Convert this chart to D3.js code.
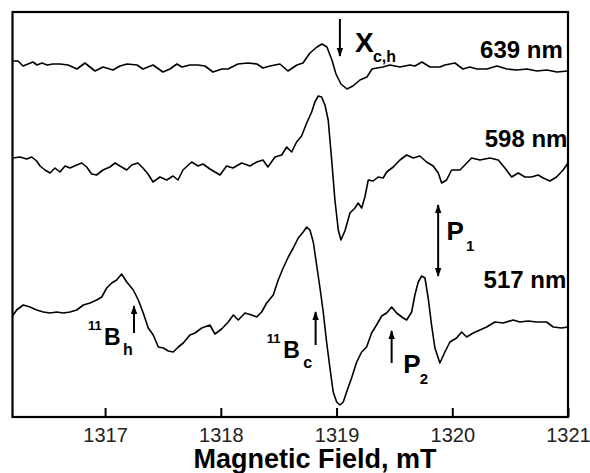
<!DOCTYPE html>
<html>
<head>
<meta charset="utf-8">
<script src="https://cdn.jsdelivr.net/npm/d3@7"></script>
<style>
  body { margin: 0; background: #fff; }
  svg { display: block; font-family: "Liberation Sans", Arial, sans-serif; }
</style>
</head>
<body>
<div id="chart"></div>
<script>
// EPR spectra, magnetic field in mT, intensity in arbitrary units (traces are offset)
var field639 = [1316.200, 1316.248, 1316.291, 1316.334, 1316.377, 1316.412, 1316.455, 1316.498, 1316.550, 1316.610,
  1316.680, 1316.757, 1316.826, 1316.913, 1316.982, 1317.068, 1317.129, 1317.189, 1317.276, 1317.327,
  1317.414, 1317.500, 1317.561, 1317.621, 1317.664, 1317.733, 1317.803, 1317.863, 1317.932, 1318.010,
  1318.062, 1318.148, 1318.235, 1318.312, 1318.364, 1318.425, 1318.511, 1318.580, 1318.658, 1318.710,
  1318.770, 1318.831, 1318.874, 1318.917, 1318.960, 1318.995, 1319.038, 1319.090, 1319.142, 1319.202,
  1319.263, 1319.306, 1319.349, 1319.401, 1319.461, 1319.548, 1319.634, 1319.677, 1319.738, 1319.807,
  1319.893, 1319.936, 1320.023, 1320.092, 1320.152, 1320.213, 1320.299, 1320.386, 1320.472, 1320.558,
  1320.645, 1320.731, 1320.818, 1320.904, 1321.000]
var int639 = [35.6, 35.6, 35.1, 35.3, 35.5, 35.2, 35.4, 35.2, 35.3, 35.3,
  35.2, 34.8, 35.4, 34.6, 35.0, 34.7, 35.1, 35.3, 35.2, 34.8,
  35.2, 34.5, 34.8, 35.3, 35.0, 35.2, 35.2, 35.1, 34.5, 34.8,
  34.8, 35.3, 35.4, 35.3, 34.9, 35.1, 35.3, 34.6, 35.2, 35.4,
  36.4, 37.0, 37.3, 37.0, 35.7, 34.3, 33.3, 32.8, 33.1, 33.7,
  34.0, 34.8, 34.9, 35.0, 35.2, 35.0, 35.2, 35.1, 35.5, 35.0,
  35.0, 35.2, 35.4, 34.8, 35.0, 34.8, 34.8, 35.1, 34.8, 34.7,
  34.8, 34.6, 34.7, 34.5, 34.6]

var field598 = [1316.200, 1316.265, 1316.323, 1316.366, 1316.409, 1316.438, 1316.481, 1316.524, 1316.567, 1316.610,
  1316.654, 1316.697, 1316.755, 1316.798, 1316.841, 1316.884, 1316.927, 1316.982, 1317.042, 1317.086,
  1317.143, 1317.187, 1317.230, 1317.284, 1317.327, 1317.371, 1317.414, 1317.474, 1317.532, 1317.587,
  1317.630, 1317.673, 1317.748, 1317.803, 1317.846, 1317.906, 1317.993, 1318.050, 1318.105, 1318.180,
  1318.252, 1318.310, 1318.364, 1318.407, 1318.468, 1318.526, 1318.569, 1318.612, 1318.655, 1318.698,
  1318.742, 1318.785, 1318.813, 1318.842, 1318.871, 1318.900, 1318.928, 1318.958, 1318.986, 1319.015,
  1319.038, 1319.072, 1319.116, 1319.159, 1319.187, 1319.217, 1319.245, 1319.274, 1319.317, 1319.360,
  1319.403, 1319.433, 1319.490, 1319.548, 1319.606, 1319.663, 1319.720, 1319.778, 1319.835, 1319.879,
  1319.908, 1319.951, 1319.994, 1320.066, 1320.109, 1320.167, 1320.239, 1320.325, 1320.397, 1320.455,
  1320.513, 1320.570, 1320.628, 1320.685, 1320.742, 1320.786, 1320.844, 1320.901, 1320.958, 1321.000]
var int598 = [25.9, 26.0, 25.8, 26.0, 25.6, 25.1, 24.7, 24.4, 24.9, 24.5,
  25.1, 24.9, 25.2, 25.4, 25.0, 24.3, 24.2, 24.7, 25.0, 25.4,
  25.0, 24.7, 25.2, 25.4, 24.9, 24.3, 23.5, 24.0, 23.7, 24.1,
  23.7, 24.7, 25.5, 25.1, 25.3, 24.8, 24.2, 25.1, 24.9, 25.4,
  25.1, 25.5, 25.7, 25.0, 26.0, 26.2, 27.0, 26.5, 27.5, 28.1,
  29.4, 30.5, 31.5, 32.1, 32.0, 31.2, 29.7, 25.7, 21.7, 18.7,
  17.7, 18.6, 20.4, 20.9, 21.4, 20.9, 22.0, 23.7, 23.6, 24.0,
  23.9, 24.5, 25.0, 25.7, 26.2, 25.9, 26.1, 25.5, 25.1, 24.4,
  23.4, 23.7, 24.7, 24.7, 25.2, 25.9, 25.7, 25.9, 25.7, 24.9,
  24.0, 24.4, 24.0, 24.0, 24.2, 23.9, 23.6, 24.0, 24.7, 25.4]

var field517 = [1316.200, 1316.236, 1316.293, 1316.351, 1316.409, 1316.466, 1316.524, 1316.582, 1316.639, 1316.697,
  1316.755, 1316.812, 1316.870, 1316.927, 1316.971, 1317.014, 1317.057, 1317.100, 1317.143, 1317.187,
  1317.244, 1317.287, 1317.330, 1317.373, 1317.416, 1317.460, 1317.503, 1317.546, 1317.589, 1317.632,
  1317.676, 1317.733, 1317.777, 1317.835, 1317.906, 1317.949, 1318.007, 1318.064, 1318.108, 1318.151,
  1318.209, 1318.266, 1318.310, 1318.353, 1318.396, 1318.453, 1318.496, 1318.539, 1318.583, 1318.626,
  1318.669, 1318.712, 1318.742, 1318.770, 1318.799, 1318.828, 1318.857, 1318.885, 1318.914, 1318.943,
  1318.971, 1319.001, 1319.029, 1319.058, 1319.087, 1319.130, 1319.174, 1319.217, 1319.260, 1319.303,
  1319.346, 1319.390, 1319.433, 1319.476, 1319.519, 1319.576, 1319.606, 1319.649, 1319.677, 1319.706,
  1319.735, 1319.764, 1319.792, 1319.821, 1319.850, 1319.893, 1319.936, 1319.980, 1320.037, 1320.081,
  1320.124, 1320.181, 1320.239, 1320.297, 1320.368, 1320.440, 1320.526, 1320.584, 1320.656, 1320.729,
  1320.815, 1320.872, 1320.945, 1321.000]
var int517 = [10.1, 10.7, 11.2, 11.0, 10.7, 10.5, 10.4, 10.5, 10.4, 10.5,
  10.7, 11.2, 11.4, 11.7, 12.0, 12.9, 13.4, 13.7, 14.3, 13.5,
  12.7, 11.7, 10.4, 8.9, 8.2, 7.0, 6.9, 6.6, 6.5, 7.0,
  7.4, 8.2, 8.4, 8.9, 9.2, 8.3, 8.8, 9.5, 10.2, 9.7,
  10.4, 10.2, 10.0, 10.5, 11.4, 12.2, 13.7, 14.9, 16.0, 16.9,
  17.9, 18.5, 19.0, 18.7, 17.5, 15.2, 12.9, 10.5, 7.5, 4.9,
  2.5, 1.5, 1.2, 1.5, 2.5, 3.9, 5.5, 6.5, 7.0, 8.4,
  9.2, 10.1, 10.4, 11.0, 10.4, 9.9, 9.7, 10.5, 12.2, 13.5,
  14.1, 13.9, 11.9, 9.2, 6.9, 5.4, 6.5, 7.5, 7.9, 8.5,
  8.0, 8.4, 8.7, 9.0, 9.5, 9.4, 9.7, 9.5, 9.6, 9.5,
  9.5, 9.0, 8.9, 9.0]

var xTicks = [1317, 1318, 1319, 1320, 1321]

// trace labels
var waveLabels = ["639 nm", "598 nm", "517 nm"]
var waveField = [1320.955, 1320.995, 1320.985]
var waveInt = [35.9, 27.0, 12.9]

// arrows: field, start, end (head at end); P1 has heads on both ends
var arrowField = [1319.029, 1319.878, 1319.476, 1317.250, 1318.819]
var arrowFrom = [39.8, 21.2, 5.4, 8.4, 7.2]
var arrowTo = [36.1, 14.1, 8.6, 11.1, 10.5]
var arrowBoth = [false, true, false, false, false]

// annotation text pieces (field, intensity of baseline)
var notes = [
  {t: "X", f: 1319.159, v: 36.5, s: 28},
  {t: "c,h", f: 1319.314, v: 35.5, s: 16},
  {t: "P", f: 1319.951, v: 17.7, s: 26},
  {t: "1", f: 1320.118, v: 16.6, s: 15},
  {t: "P", f: 1319.576, v: 4.4, s: 26},
  {t: "2", f: 1319.720, v: 3.3, s: 15},
  {t: "11", f: 1316.852, v: 8.7, s: 13},
  {t: "B", f: 1316.990, v: 7.2, s: 23},
  {t: "h", f: 1317.155, v: 6.2, s: 16},
  {t: "11", f: 1318.396, v: 7.4, s: 13},
  {t: "B", f: 1318.539, v: 5.9, s: 23},
  {t: "c", f: 1318.712, v: 4.9, s: 16}
]

var width = 590,
    height = 473,
    margin = {top: 12, right: 22, bottom: 56, left: 12.5}

var svg = d3.select("#chart")
  .append("svg")
    .attr("width", width)
    .attr("height", height)

var x = d3.scaleLinear()
  .domain([1316.2, 1321])
  .range([margin.left, width - margin.right])

var y = d3.scaleLinear()
  .domain([0, 40.5])
  .range([height - margin.bottom, margin.top])

// arrow heads
var defs = svg.append("defs")
defs.append("marker")
    .attr("id", "head")
    .attr("markerUnits", "userSpaceOnUse")
    .attr("viewBox", "0 -4 9 8")
    .attr("refX", 8)
    .attr("refY", 0)
    .attr("markerWidth", 9)
    .attr("markerHeight", 8)
    .attr("orient", "auto-start-reverse")
  .append("path")
    .attr("d", "M0,-3.2L9,0L0,3.2Z")
    .attr("fill", "#000")

var traces = [
  d3.zip(field639, int639),
  d3.zip(field598, int598),
  d3.zip(field517, int517)
]

var line = d3.line()
  .x(function(d) { return x(d[0]) })
  .y(function(d) { return y(d[1]) })

svg.selectAll(".trace")
  .data(traces)
  .enter()
  .append("path")
    .attr("class", "trace")
    .attr("d", line)
    .attr("fill", "none")
    .attr("stroke", "#000")
    .attr("stroke-width", 1.6)
    .attr("stroke-linejoin", "round")

// x axis with inward ticks
var xAxis = svg.append("g")
  .attr("transform", "translate(0," + (height - margin.bottom) + ")")
  .call(d3.axisBottom(x).tickValues(xTicks).tickFormat(d3.format("d"))
    .tickSizeInner(-9).tickSizeOuter(0).tickPadding(11))

xAxis.select(".domain").remove()
xAxis.selectAll(".tick line").attr("stroke", "#000").attr("stroke-width", 2)
xAxis.selectAll(".tick text")
  .attr("fill", "#222")
  .style("font-size", "20px")
  .style("font-family", "'Liberation Sans', Arial, sans-serif")

// frame
svg.append("rect")
  .attr("x", margin.left)
  .attr("y", margin.top)
  .attr("width", width - margin.left - margin.right)
  .attr("height", height - margin.top - margin.bottom)
  .attr("fill", "none")
  .attr("stroke", "#000")
  .attr("stroke-width", 2.2)

svg.append("text")
  .attr("x", 315)
  .attr("y", 468)
  .attr("text-anchor", "middle")
  .style("font-size", "27px")
  .style("font-weight", "bold")
  .text("Magnetic Field, mT")

svg.selectAll(".wave")
  .data(waveLabels)
  .enter()
  .append("text")
    .attr("class", "wave")
    .attr("x", function(d, i) { return x(waveField[i]) })
    .attr("y", function(d, i) { return y(waveInt[i]) })
    .attr("text-anchor", "end")
    .style("font-size", "24px")
    .style("font-weight", "bold")
    .text(function(d) { return d })

svg.selectAll(".arrow")
  .data(arrowField)
  .enter()
  .append("line")
    .attr("class", "arrow")
    .attr("x1", function(d) { return x(d) })
    .attr("x2", function(d) { return x(d) })
    .attr("y1", function(d, i) { return y(arrowFrom[i]) })
    .attr("y2", function(d, i) { return y(arrowTo[i]) })
    .attr("stroke", "#000")
    .attr("stroke-width", 2)
    .attr("marker-end", "url(#head)")
    .attr("marker-start", function(d, i) { return arrowBoth[i] ? "url(#head)" : null })

svg.selectAll(".note")
  .data(notes)
  .enter()
  .append("text")
    .attr("class", "note")
    .attr("x", function(d) { return x(d.f) })
    .attr("y", function(d) { return y(d.v) })
    .style("font-size", function(d) { return d.s + "px" })
    .style("font-weight", "bold")
    .text(function(d) { return d.t })
</script>
</body>
</html>
